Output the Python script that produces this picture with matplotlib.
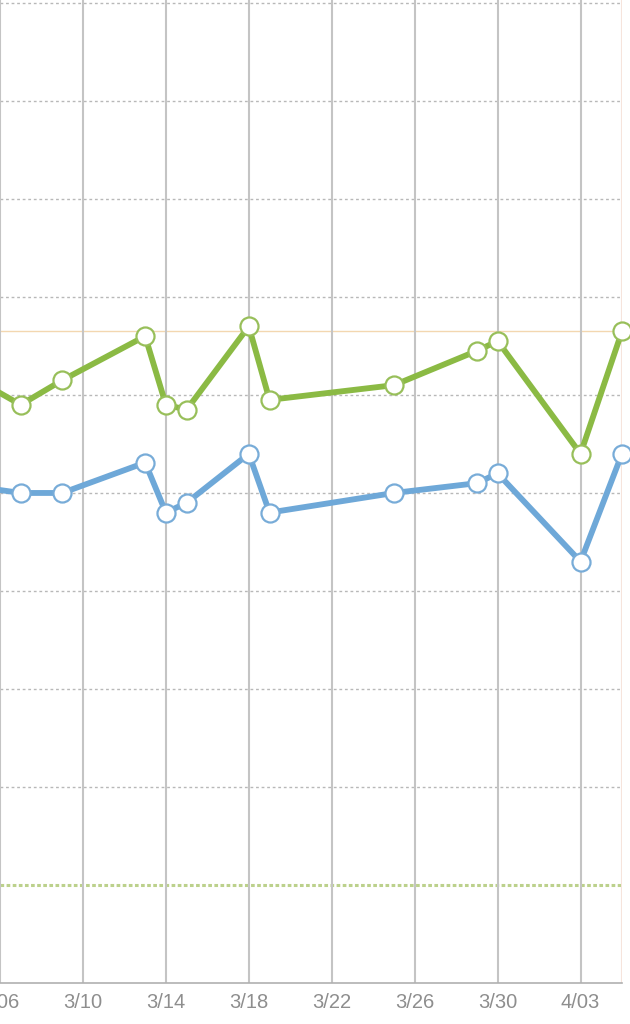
import numpy as np
import pandas as pd
import matplotlib
matplotlib.use('Agg')
import matplotlib.pyplot as plt
import matplotlib.dates as mdates
from matplotlib.ticker import FuncFormatter

# readings per day (upper = green, lower = blue)
days = ['2024-03-05', '2024-03-07', '2024-03-09', '2024-03-13', '2024-03-14',
        '2024-03-15', '2024-03-18', '2024-03-19', '2024-03-25', '2024-03-29',
        '2024-03-30', '2024-04-03', '2024-04-05']
upper = [61.4, 59.0, 61.5, 66.0, 59.0, 58.5, 67.0, 59.5, 61.0, 64.5, 65.5, 54.0, 66.5]
lower = [50.6, 50.0, 50.0, 53.1, 48.0, 49.0, 54.0, 48.0, 50.0, 51.0, 52.0, 43.0, 54.0]
upper_ref = 66.5   # orange target line
lower_ref = 10     # green dotted line

df = pd.DataFrame({'day': pd.to_datetime(days), 'upper': upper, 'lower': lower})

fig = plt.figure(figsize=(6.3, 10.24), dpi=100)
ax = fig.add_axes([0, 41/1024, 622/630, 983/1024])

x0 = pd.Timestamp('2024-03-06')
x1 = pd.Timestamp('2024-04-05')
ax.set_xlim(x0, x1)
ax.set_ylim(0, 100.3)

# grid
for v in range(10, 101, 10):
    if v == lower_ref:
        continue
    ax.axhline(v, color='#b8b8b8', lw=1, ls=(0, (2, 2)), zorder=1)
ax.axhline(lower_ref, color='#bcd18c', lw=2.2, ls=(0, (1.2, 0.8)), zorder=1)
ax.axhline(upper_ref, color='#f3d7b0', lw=1, zorder=1)
ticks = pd.date_range('2024-03-06', '2024-04-03', freq='4D')
for t in ticks:
    ax.axvline(t, color='#c4c4c4', lw=1.5, zorder=1)
ax.axvline(x1, color='#f6e4dc', lw=1.5, zorder=1)

green = '#8bba44'
blue = '#6ea8d8'
ax.plot(df['day'], df['upper'], color=green, lw=4.2, marker='o', ms=13,
        mfc='white', mec='#98bf5a', mew=1.6, clip_on=False, zorder=3)
ax.plot(df['day'], df['lower'], color=blue, lw=4.2, marker='o', ms=13,
        mfc='white', mec='#78acd8', mew=1.6, clip_on=False, zorder=3)

ax.set_xticks(ticks)
ax.xaxis.set_major_formatter(FuncFormatter(
    lambda v, p: f"{mdates.num2date(v).month}/{mdates.num2date(v).day:02d}"))
ax.tick_params(axis='x', length=0, pad=7.5, labelsize=14.5, labelcolor='#8e8e8e')
for lab in ax.get_xticklabels():
    lab.set_family(['Liberation Sans', 'DejaVu Sans'])
ax.set_yticks([])

for s in ['top', 'left', 'right']:
    ax.spines[s].set_visible(False)
ax.spines['bottom'].set_color('#b0b0b0')
ax.spines['bottom'].set_linewidth(1.2)

fig.savefig('out.png', dpi=100)
